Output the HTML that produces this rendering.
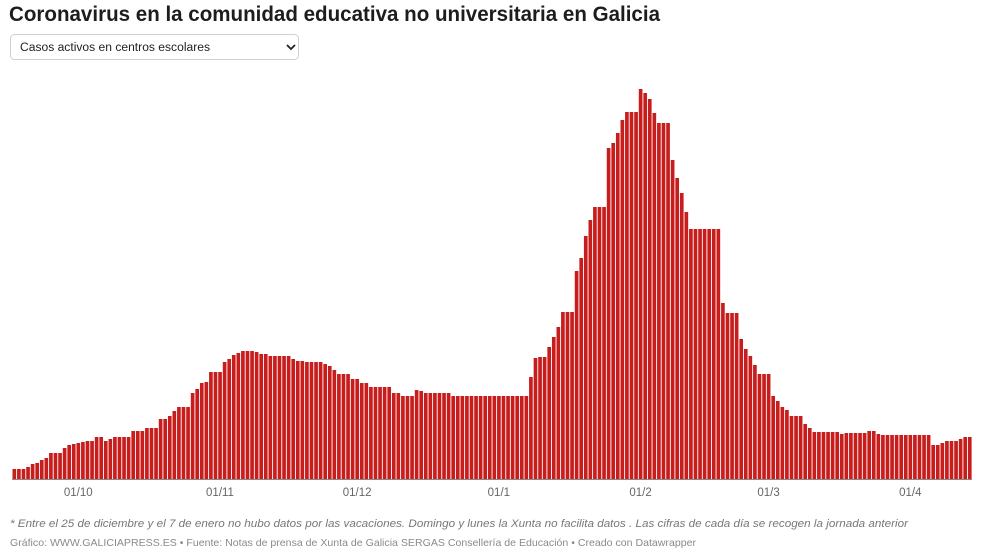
<!DOCTYPE html>
<html><head><meta charset="utf-8"><style>
html,body{margin:0;padding:0;background:#fff;width:981px;height:560px;overflow:hidden;font-family:"Liberation Sans",sans-serif}
</style></head><body>
<svg id="chart" width="981" height="560" xmlns="http://www.w3.org/2000/svg" font-family="Liberation Sans, sans-serif">
<text x="9" y="21" font-size="21" font-weight="bold" fill="#1d1d1d" textLength="651" lengthAdjust="spacingAndGlyphs">Coronavirus en la comunidad educativa no universitaria en Galicia</text>
<g>
<rect x="10.5" y="34.5" width="288" height="25" rx="4" fill="#fff" stroke="#d0d0d0"/>
<text x="20" y="51" font-size="11.5" fill="#222" textLength="190" lengthAdjust="spacingAndGlyphs">Casos activos en centros escolares</text>
<path d="M287 45 l4 4 l4 -4" fill="none" stroke="#222" stroke-width="1.8"/>
</g>
<g id="bars"></g>
<line x1="12" y1="479.5" x2="972" y2="479.5" stroke="#888" stroke-width="1"/>
<g id="ticks"></g>
<text x="10" y="527" font-size="11" font-style="italic" fill="#777" textLength="898" lengthAdjust="spacingAndGlyphs">* Entre el 25 de diciembre y el 7 de enero no hubo datos por las vacaciones. Domingo y lunes la Xunta no facilita datos . Las cifras de cada día se recogen la jornada anterior</text>
<text x="10" y="546" font-size="10.5" fill="#8a8a8a" textLength="686" lengthAdjust="spacingAndGlyphs">Gráfico: WWW.GALICIAPRESS.ES • Fuente: Notas de prensa de Xunta de Galicia SERGAS Consellería de Educación • Creado con Datawrapper</text>
</svg>
<script>
const startDate = "2020-09-17";
const values = [10,10,10,12,15,16,19,21,26,26,26,31,34,35,36,37,38,38,42,42,38,40,42,42,42,42,48,48,48,51,51,51,60,60,63,68,72,72,72,86,90,96,97,107,107,107,117,120,124,126,128,128,128,127,125,125,123,123,123,123,123,120,118,118,117,117,117,117,115,113,109,105,105,105,100,100,96,96,92,92,92,92,92,86,86,83,83,83,89,88,86,86,86,86,86,86,83,83,83,83,83,83,83,83,83,83,83,83,83,83,83,83,83,102,121,122,122,132,142,152,167,167,167,208,221,243,259,272,272,272,331,336,346,359,367,367,367,390,386,380,366,356,356,356,319,301,286,267,250,250,250,250,250,250,250,176,166,166,166,140,130,123,114,105,105,105,83,78,72,69,63,63,63,55,51,47,47,47,47,47,47,45,46,46,46,46,46,48,48,45,44,44,44,44,44,44,44,44,44,44,44,34,34,36,38,38,38,40,42,42];
const tickLabels = ["01/10","01/11","01/12","01/1","01/2","01/3","01/4"];
const tickIndex = [14,45,75,106,137,165,196];
const yMax = 400;

const NS = "http://www.w3.org/2000/svg";
const xStart = 12, xEnd = 972, yBase = 479, yTop = 79;
const bw = (xEnd - xStart) / values.length;
const xScale = i => xStart + i * bw;
const yScale = v => yBase - (v / yMax) * (yBase - yTop);
const barsG = document.getElementById("bars");
values.forEach((v, i) => {
  const r = document.createElementNS(NS, "rect");
  r.setAttribute("x", xScale(i) + 0.5);
  r.setAttribute("width", bw - 0.9);
  r.setAttribute("y", yScale(v));
  r.setAttribute("height", yBase - yScale(v));
  r.setAttribute("fill", "#c71e1d");
  
  
  barsG.appendChild(r);
});
const ticksG = document.getElementById("ticks");
tickLabels.forEach((t, k) => {
  const tx = document.createElementNS(NS, "text");
  tx.setAttribute("x", xScale(tickIndex[k] + 0.5));
  tx.setAttribute("y", 496);
  tx.setAttribute("text-anchor", "middle");
  tx.setAttribute("font-size", "11.5");
  tx.setAttribute("fill", "#666");
  tx.textContent = t;
  
  
  ticksG.appendChild(tx);
});
</script>
</body></html>
